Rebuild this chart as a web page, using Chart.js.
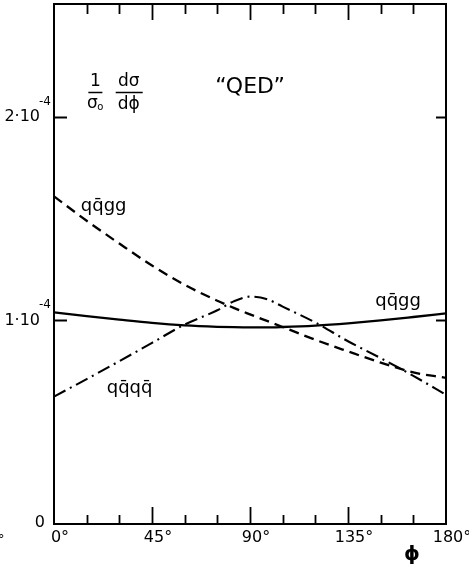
<!DOCTYPE html>
<html>
<head>
<meta charset="utf-8">
<script src="https://cdn.jsdelivr.net/npm/chart.js@4.4.1/dist/chart.umd.min.js"></script>
<style>
  html, body { margin: 0; padding: 0; background: #fff; }
  #wrap { width: 469px; height: 570px; position: relative; }
</style>
</head>
<body>
<div id="wrap"><canvas id="c" width="469" height="570"></canvas></div>
<script>
// ---- data (values in units of 1e-4) ----
const phi          = [0, 15, 30, 45, 60, 75, 82.5, 90, 97.5, 105, 120, 135, 150, 165, 180];
const solidQQGG    = [1.040, 1.021, 1.004, 0.988, 0.976, 0.969, 0.967, 0.966, 0.966, 0.968, 0.975, 0.986, 1.000, 1.017, 1.035];
const dashedQQGG   = [1.610, 1.490, 1.378, 1.270, 1.175, 1.097, 1.062, 1.030, 0.999, 0.968, 0.905, 0.848, 0.793, 0.745, 0.718];
const dashDotQQQQ  = [0.626, 0.712, 0.800, 0.890, 0.980, 1.050, 1.094, 1.117, 1.106, 1.068, 0.990, 0.898, 0.815, 0.728, 0.635];

const xTickValues  = [0, 15, 30, 45, 60, 75, 90, 105, 120, 135, 150, 165, 180];
const xMajorValues = [0, 45, 90, 135, 180];
const xTickLabels  = ['0', '45', '90', '135', '180'];
const yTickValues  = [0, 1, 2];
const yTickLabels  = ['0', '1·10', '2·10'];
const yTickExps    = ['', '-4', '-4'];

const seriesLabels = [
  { text: 'qq\u0304gg', x: 22.8, y: 1.563 },
  { text: 'qq\u0304gg', x: 158, y: 1.096 },
  { text: 'qq\u0304qq\u0304', x: 34.7, y: 0.668 }
];

const FONT = '"DejaVu Sans", "Liberation Sans", sans-serif';

const toXY = arr => phi.map((x, i) => ({ x, y: arr[i] }));

const decor = {
  id: 'decor',
  afterDraw(chart) {
    const ctx = chart.ctx;
    const xs = chart.scales.x, ys = chart.scales.y;
    const a = chart.chartArea;
    ctx.save();
    ctx.strokeStyle = '#000';
    ctx.fillStyle = '#000';
    ctx.lineCap = 'butt';
    // frame
    ctx.lineWidth = 2;
    ctx.strokeRect(a.left, a.top, a.right - a.left, a.bottom - a.top);
    // x ticks (inward, bottom and top)
    xTickValues.forEach(v => {
      if (v === 0 || v === 180) return;
      const px = Math.round(xs.getPixelForValue(v)) + 0.5;
      const major = v % 45 === 0;
      ctx.lineWidth = 1.8;
      ctx.beginPath();
      ctx.moveTo(px, a.bottom);
      ctx.lineTo(px, a.bottom - (major ? 17 : 9));
      ctx.moveTo(px, a.top);
      ctx.lineTo(px, a.top + (major ? 16 : 10));
      ctx.stroke();
    });
    // y ticks (inward, left and right)
    yTickValues.forEach(v => {
      if (v === 0) return;
      const py = Math.round(ys.getPixelForValue(v)) + 0.5;
      ctx.lineWidth = 2;
      ctx.beginPath();
      ctx.moveTo(a.left, py);
      ctx.lineTo(a.left + 13, py);
      ctx.moveTo(a.right, py);
      ctx.lineTo(a.right - 10, py);
      ctx.stroke();
    });
    // x tick labels
    ctx.font = '16px ' + FONT;
    ctx.textBaseline = 'top';
    xMajorValues.forEach((v, i) => {
      const px = xs.getPixelForValue(v);
      const t = xTickLabels[i];
      const w = ctx.measureText(t).width;
      ctx.textAlign = 'left';
      ctx.fillText(t + '°', px - w / 2 + 2, a.bottom + 6);
    });
    // y tick labels with exponent
    yTickValues.forEach((v, i) => {
      const py = ys.getPixelForValue(v);
      ctx.font = '16px ' + FONT;
      ctx.textBaseline = 'middle';
      if (yTickExps[i]) {
        ctx.textAlign = 'right';
        ctx.fillText(yTickLabels[i], 40, py);
        ctx.font = '12px ' + FONT;
        ctx.textAlign = 'left';
        ctx.textBaseline = 'alphabetic';
        ctx.fillText(yTickExps[i], 39, py - 12);
      } else {
        ctx.textAlign = 'right';
        ctx.fillText(yTickLabels[i], 45, py - 1);
      }
    });
    // axis title
    ctx.font = 'bold 20px ' + FONT;
    ctx.textAlign = 'center';
    ctx.textBaseline = 'middle';
    ctx.fillText('\u03D5', 412, 555);
    // stray fragment at left edge
    ctx.font = '13px ' + FONT;
    ctx.textAlign = 'left';
    ctx.fillText('°', -2, 540);
    // series labels
    ctx.font = '18px ' + FONT;
    ctx.textAlign = 'center';
    ctx.textBaseline = 'middle';
    seriesLabels.forEach(l => {
      ctx.fillText(l.text, xs.getPixelForValue(l.x), ys.getPixelForValue(l.y));
    });
    // QED label
    ctx.font = '22px ' + FONT;
    ctx.fillText('\u201CQED\u201D', xs.getPixelForValue(90), ys.getPixelForValue(2.147));
    // fraction 1/σo dσ/dϕ
    const fx1 = xs.getPixelForValue(19), fx2 = xs.getPixelForValue(34.3);
    const fy = ys.getPixelForValue(2.12);
    ctx.font = '17px ' + FONT;
    ctx.fillText('1', fx1, fy - 11);
    ctx.fillText('dσ', fx2, fy - 11);
    ctx.fillText('σ', fx1 - 3, fy + 11);
    ctx.font = '10px ' + FONT;
    ctx.fillText('o', fx1 + 5, fy + 15);
    ctx.font = '17px ' + FONT;
    ctx.fillText('d\u03D5', fx2, fy + 12);
    ctx.lineWidth = 1.6;
    ctx.beginPath();
    ctx.moveTo(fx1 - 7, fy); ctx.lineTo(fx1 + 7, fy);
    ctx.moveTo(fx2 - 13, fy); ctx.lineTo(fx2 + 14, fy);
    ctx.stroke();
    ctx.restore();
  }
};

new Chart(document.getElementById('c'), {
  type: 'line',
  data: {
    datasets: [
      { label: 'qq̄gg', data: toXY(solidQQGG), borderColor: '#000', borderWidth: 2.3, pointRadius: 0, cubicInterpolationMode: 'monotone', fill: false },
      { label: 'qq̄gg QED', data: toXY(dashedQQGG), borderColor: '#000', borderWidth: 2.3, borderDash: [10, 6], pointRadius: 0, cubicInterpolationMode: 'monotone', fill: false },
      { label: 'qq̄qq̄', data: toXY(dashDotQQQQ), borderColor: '#000', borderWidth: 2.1, borderDash: [13, 5, 2, 5], pointRadius: 0, cubicInterpolationMode: 'monotone', fill: false }
    ]
  },
  options: {
    responsive: false,
    animation: false,
    events: [],
    layout: { padding: { top: 4, right: 23, left: 0, bottom: 0 } },
    plugins: { legend: { display: false }, tooltip: { enabled: false } },
    scales: {
      x: {
        type: 'linear', min: 0, max: 180,
        ticks: { display: false },
        grid: { display: false },
        border: { display: false },
        afterFit: s => { s.height = 46; }
      },
      y: {
        type: 'linear', min: 0, max: 2.555,
        ticks: { display: false },
        grid: { display: false },
        border: { display: false },
        afterFit: s => { s.width = 54; }
      }
    }
  },
  plugins: [decor]
});
</script>
</body>
</html>
